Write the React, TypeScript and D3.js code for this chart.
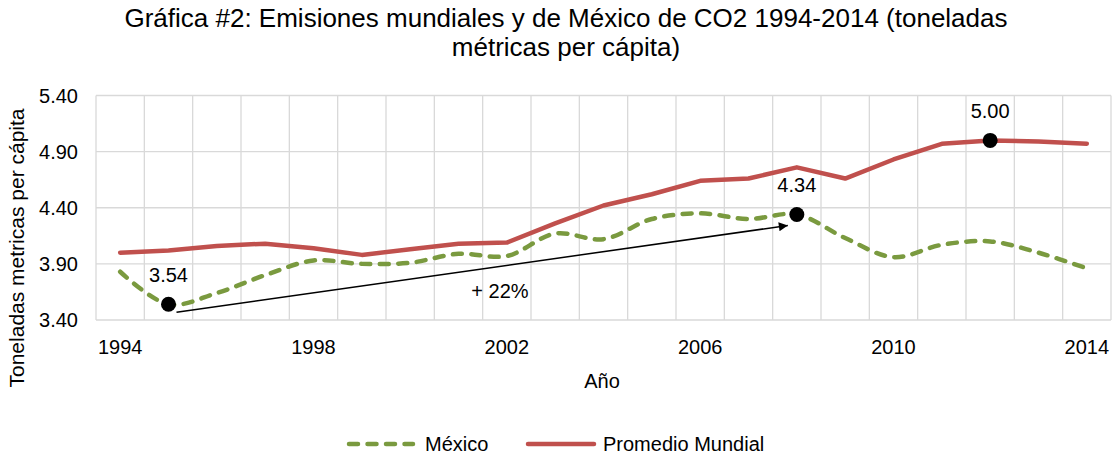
import React from "react";
import * as d3 from "d3";

// CO2 emissions per capita (metric tonnes), 1994–2014
const years: number[] = [
  1994, 1995, 1996, 1997, 1998, 1999, 2000, 2001, 2002, 2003, 2004,
  2005, 2006, 2007, 2008, 2009, 2010, 2011, 2012, 2013, 2014,
];
const mexico: number[] = [
  3.83, 3.54, 3.64, 3.8, 3.93, 3.9, 3.91, 3.99, 3.97, 4.17, 4.12,
  4.3, 4.35, 4.3, 4.34, 4.13, 3.96, 4.07, 4.1, 4.0, 3.86,
];
const mundial: number[] = [
  4.0, 4.02, 4.06, 4.08, 4.04, 3.98, 4.03, 4.08, 4.09, 4.26, 4.42,
  4.52, 4.64, 4.66, 4.76, 4.66, 4.83, 4.97, 5.0, 4.99, 4.97,
];
const yTicks: number[] = [3.4, 3.9, 4.4, 4.9, 5.4];
const xTickYears: number[] = [1994, 1998, 2002, 2006, 2010, 2014];

// highlighted points: [series, year]
const highlights: { series: "mexico" | "mundial"; year: number }[] = [
  { series: "mexico", year: 1995 },
  { series: "mexico", year: 2008 },
  { series: "mundial", year: 2012 },
];

const W = 1114;
const H = 459;
const FONT = "'Liberation Sans', Arial, sans-serif";
const GREEN = "#7A9A3F";
const RED = "#C0504D";
const GRID = "#D9D9D9";

export default function App() {
  const left = 96;
  const right = 1111;
  const top = 95.5;
  const bottom = 320;

  const x = d3
    .scalePoint<number>()
    .domain(years)
    .range([left, right])
    .padding(0.5);
  const step = x.step();
  const y = d3.scaleLinear().domain([3.4, 5.4]).range([bottom, top]);

  const mexLine = d3
    .line<number>()
    .x((_, i) => x(years[i]) as number)
    .y((v) => y(v))
    .curve(d3.curveCatmullRom.alpha(0.5));
  const mundLine = d3
    .line<number>()
    .x((_, i) => x(years[i]) as number)
    .y((v) => y(v));

  const valueOf = (s: "mexico" | "mundial", yr: number) =>
    (s === "mexico" ? mexico : mundial)[years.indexOf(yr)];

  // arrow from the 1995 low to the 2008 peak of Mexico
  const a0x = (x(1995) as number) + 8;
  const a0y = y(valueOf("mexico", 1995)) + 8;
  const a1x = (x(2008) as number) - 9;
  const a1y = y(valueOf("mexico", 2008)) + 11;

  const vLines = d3.range(years.length + 1).map((i) => left + i * step);

  return (
    <svg
      width={W}
      height={H}
      style={{ position: "absolute", left: 0, top: 0, background: "#fff" }}
      fontFamily={FONT}
    >
      <defs>
        <marker
          id="arrowHead"
          viewBox="0 0 10 10"
          refX="10"
          refY="5"
          markerWidth="10"
          markerHeight="9"
          markerUnits="userSpaceOnUse"
          orient="auto"
        >
          <path d="M0,0 L10,5 L0,10 z" fill="#000" />
        </marker>
      </defs>

      {/* title */}
      <text x={566} y={27} textAnchor="middle" fontSize={26} fill="#000">
        Gráfica #2: Emisiones mundiales y de México de CO2 1994-2014 (toneladas
      </text>
      <text x={566} y={56} textAnchor="middle" fontSize={26} fill="#000">
        métricas per cápita)
      </text>

      {/* grid */}
      <g stroke={GRID} strokeWidth={1.3}>
        {yTicks.map((t) => (
          <line key={t} x1={left} x2={right} y1={y(t)} y2={y(t)} />
        ))}
        {vLines.map((vx, i) => (
          <line key={i} x1={vx} x2={vx} y1={top} y2={bottom} />
        ))}
      </g>

      {/* y axis labels */}
      {yTicks.map((t) => (
        <text
          key={t}
          x={78}
          y={y(t)}
          dy="0.35em"
          textAnchor="end"
          fontSize={20}
          fill="#000"
        >
          {t.toFixed(2)}
        </text>
      ))}

      {/* x axis labels */}
      {xTickYears.map((yr) => (
        <text
          key={yr}
          x={x(yr) as number}
          y={354}
          textAnchor="middle"
          fontSize={20}
          fill="#000"
        >
          {yr}
        </text>
      ))}

      {/* axis titles */}
      <text x={602} y={388} textAnchor="middle" fontSize={20} fill="#000">
        Año
      </text>
      <text
        transform="translate(24,248) rotate(-90)"
        textAnchor="middle"
        fontSize={21}
        fill="#000"
      >
        Toneladas metricas per cápita
      </text>

      {/* series */}
      <path
        d={mundLine(mundial) || ""}
        fill="none"
        stroke={RED}
        strokeWidth={4.5}
        strokeLinejoin="round"
        strokeLinecap="round"
      />
      <path
        d={mexLine(mexico) || ""}
        fill="none"
        stroke={GREEN}
        strokeWidth={4.5}
        strokeDasharray="9 9.5"
        strokeLinecap="round"
      />

      {/* arrow annotation */}
      <line
        x1={a0x}
        y1={a0y}
        x2={a1x}
        y2={a1y}
        stroke="#000"
        strokeWidth={1.5}
        markerEnd="url(#arrowHead)"
      />
      <text x={500} y={298} textAnchor="middle" fontSize={20} fill="#000">
        + 22%
      </text>

      {/* highlighted points */}
      {highlights.map((h) => {
        const v = valueOf(h.series, h.year);
        const cx = x(h.year) as number;
        const cy = y(v);
        return (
          <g key={h.series + h.year}>
            <circle cx={cx} cy={cy} r={7.5} fill="#000" />
            <text
              x={cx}
              y={cy - 22}
              textAnchor="middle"
              fontSize={20}
              fill="#000"
            >
              {v.toFixed(2)}
            </text>
          </g>
        );
      })}

      {/* legend */}
      <line
        x1={349}
        x2={413}
        y1={444}
        y2={444}
        stroke={GREEN}
        strokeWidth={4.5}
        strokeDasharray="9 9.5"
        strokeLinecap="round"
      />
      <text x={425} y={451} fontSize={20} fill="#000">
        México
      </text>
      <line
        x1={528}
        x2={594}
        y1={444}
        y2={444}
        stroke={RED}
        strokeWidth={4.5}
        strokeLinecap="round"
      />
      <text x={603} y={451} fontSize={20} fill="#000">
        Promedio Mundial
      </text>
    </svg>
  );
}
